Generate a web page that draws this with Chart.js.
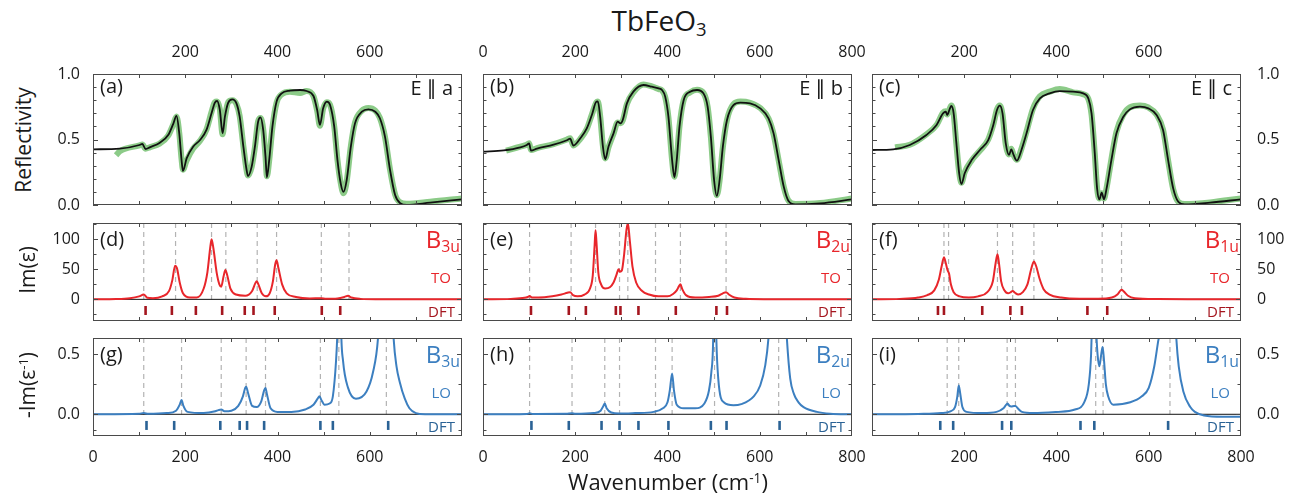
<!DOCTYPE html>
<html>
<head>
<meta charset="utf-8">
<script src="https://cdn.jsdelivr.net/npm/chart.js@4.4.1/dist/chart.umd.min.js"></script>
<style>
  body { margin: 0; background: #fff; }
  #wrap { position: relative; width: 1294px; height: 495px; overflow: hidden;
          font-family: 'Open Sans', 'DejaVu Sans', sans-serif; color: #1a1a1a; }
  canvas { position: absolute; }
  .t { position: absolute; white-space: nowrap; line-height: 1; z-index: 2; }
  .rot { transform: translate(-50%, -50%) rotate(-90deg); }
  .sub { font-size: .66em; position: relative; top: .28em; }
  .sup { font-size: .62em; position: relative; top: -.55em; }
</style>
</head>
<body>
<div id="wrap"></div>
<script>
/* ==========================================================
   TbFeO3 - reflectivity, Im(eps) and -Im(1/eps) panels
========================================================== */

/* ---------- reflectivity: fit (black) and measured (green) ---------- */

const wnA = [0, 58, 101, 107, 114, 123, 145, 163, 174, 181, 187, 192, 195, 203, 217, 232, 246, 257, 264, 269,
             275, 281, 286, 293, 302, 311, 318, 326, 333, 336, 344, 351, 358, 363, 369, 374, 377, 382, 389, 398,
             409, 427, 449, 463, 478, 486, 492, 499, 507, 514, 523, 530, 537, 543, 550, 559, 568, 583, 597, 612,
             622, 633, 644, 655, 666, 680, 731, 800];
const fitA = [0.425, 0.43, 0.458, 0.466, 0.427, 0.44, 0.476, 0.534, 0.62, 0.68, 0.547, 0.343, 0.26, 0.356, 0.445, 0.496, 0.573, 0.70, 0.78, 0.794,
              0.725, 0.547, 0.674, 0.78, 0.807, 0.776, 0.674, 0.445, 0.267, 0.221, 0.293, 0.445, 0.636, 0.669, 0.573, 0.369, 0.211, 0.343, 0.598, 0.789,
              0.852, 0.873, 0.878, 0.87, 0.832, 0.725, 0.611, 0.738, 0.789, 0.763, 0.598, 0.343, 0.165, 0.10, 0.19, 0.445, 0.623, 0.712, 0.73, 0.712,
              0.662, 0.522, 0.267, 0.076, 0.013, 0.0, 0.018, 0.043];
const wnAm = [50, 58, 101, 107, 114, 123, 145, 163, 174, 181, 187, 192, 195, 203, 217, 232, 246, 257, 264, 269,
              275, 281, 286, 293, 302, 311, 318, 326, 333, 336, 344, 351, 358, 363, 369, 374, 377, 382, 389, 398,
              409, 427, 449, 463, 478, 486, 492, 499, 507, 514, 523, 530, 537, 543, 550, 559, 568, 583, 597, 612,
              622, 633, 644, 655, 666, 680, 731, 800];
const measA = [0.38, 0.41, 0.455, 0.462, 0.43, 0.44, 0.47, 0.53, 0.615, 0.675, 0.55, 0.35, 0.27, 0.34, 0.43, 0.49, 0.575, 0.71, 0.785, 0.79,
               0.73, 0.54, 0.67, 0.785, 0.8, 0.77, 0.68, 0.45, 0.265, 0.225, 0.29, 0.44, 0.64, 0.665, 0.58, 0.37, 0.22, 0.34, 0.59, 0.78,
               0.845, 0.865, 0.855, 0.87, 0.83, 0.72, 0.605, 0.735, 0.785, 0.765, 0.6, 0.345, 0.17, 0.09, 0.18, 0.45, 0.63, 0.72, 0.74, 0.72,
               0.665, 0.52, 0.27, 0.08, 0.02, 0.01, 0.025, 0.05];

const wnB = [0, 45, 81, 95, 100, 104, 117, 153, 182, 189, 196, 211, 225, 236, 246, 249, 254, 260, 265, 272,
             283, 292, 298, 303, 312, 326, 348, 366, 381, 388, 395, 402, 410, 415, 420, 426, 435, 449, 464, 478,
             487, 494, 501, 507, 513, 520, 529, 543, 558, 579, 601, 619, 630, 641, 652, 662, 677, 731, 800];
const fitB = [0.407, 0.417, 0.44, 0.458, 0.47, 0.415, 0.43, 0.46, 0.494, 0.506, 0.453, 0.509, 0.585, 0.687, 0.789, 0.79, 0.674, 0.445, 0.349, 0.445,
              0.547, 0.636, 0.623, 0.649, 0.776, 0.865, 0.916, 0.903, 0.89, 0.878, 0.827, 0.674, 0.343, 0.211, 0.343, 0.598, 0.80, 0.865, 0.878, 0.852,
              0.751, 0.522, 0.191, 0.069, 0.191, 0.445, 0.649, 0.763, 0.781, 0.776, 0.738, 0.662, 0.547, 0.343, 0.14, 0.033, 0.005, 0.013, 0.043];
const wnBm = [50, 81, 95, 100, 104, 117, 153, 182, 189, 196, 211, 225, 236, 246, 249, 254, 260, 265, 272,
              283, 292, 298, 303, 312, 326, 348, 366, 381, 388, 395, 402, 410, 415, 420, 426, 435, 449, 464, 478,
              487, 494, 501, 507, 513, 520, 529, 543, 558, 579, 601, 619, 630, 641, 652, 662, 677, 731, 800];
const measB = [0.415, 0.445, 0.46, 0.472, 0.42, 0.435, 0.465, 0.5, 0.51, 0.455, 0.505, 0.58, 0.69, 0.785, 0.79, 0.68, 0.45, 0.355, 0.44,
               0.545, 0.63, 0.625, 0.645, 0.77, 0.86, 0.92, 0.905, 0.885, 0.875, 0.825, 0.67, 0.34, 0.215, 0.345, 0.6, 0.8, 0.86, 0.88,
               0.855, 0.75, 0.52, 0.19, 0.075, 0.19, 0.44, 0.65, 0.77, 0.79, 0.78, 0.74, 0.66, 0.54, 0.34, 0.14, 0.035, 0.008, 0.015, 0.05];

const wnC = [0, 46, 82, 118, 140, 154, 160, 163, 169, 172, 177, 183, 189, 194, 201, 216, 234, 252, 263, 271,
             277, 283, 290, 297, 302, 307, 314, 324, 335, 349, 364, 385, 407, 436, 458, 469, 476, 483, 488, 493,
             498, 503, 508, 519, 530, 545, 559, 581, 599, 617, 631, 642, 653, 664, 678, 733, 800];
const fitC = [0.42, 0.425, 0.458, 0.534, 0.611, 0.70, 0.712, 0.687, 0.738, 0.756, 0.70, 0.47, 0.242, 0.16, 0.242, 0.343, 0.42, 0.496, 0.611, 0.725,
              0.758, 0.70, 0.47, 0.382, 0.425, 0.382, 0.338, 0.42, 0.547, 0.725, 0.814, 0.852, 0.87, 0.865, 0.852, 0.814, 0.70, 0.394, 0.127, 0.043,
              0.094, 0.043, 0.115, 0.343, 0.547, 0.674, 0.73, 0.751, 0.738, 0.687, 0.573, 0.343, 0.127, 0.025, 0.005, 0.018, 0.043];
const wnCm = [50, 82, 118, 140, 154, 160, 163, 169, 172, 177, 183, 189, 194, 201, 216, 234, 252, 263, 271,
              277, 283, 290, 297, 302, 307, 314, 324, 335, 349, 364, 385, 407, 436, 458, 469, 476, 483, 488, 493,
              498, 503, 508, 519, 530, 545, 559, 581, 599, 617, 631, 642, 653, 664, 678, 733, 800];
const measC = [0.44, 0.46, 0.54, 0.61, 0.705, 0.715, 0.69, 0.74, 0.76, 0.695, 0.46, 0.25, 0.17, 0.25, 0.34, 0.415, 0.5, 0.615, 0.73,
               0.76, 0.69, 0.46, 0.385, 0.43, 0.38, 0.345, 0.43, 0.56, 0.735, 0.83, 0.865, 0.885, 0.86, 0.845, 0.81, 0.69, 0.39, 0.13, 0.05,
               0.09, 0.05, 0.12, 0.35, 0.56, 0.69, 0.745, 0.76, 0.745, 0.69, 0.575, 0.34, 0.12, 0.025, 0.008, 0.02, 0.05];

/* ---------- Im(eps), TO modes ---------- */

const wnD = [0, 50, 80, 100, 110, 118, 130, 150, 165, 172, 178, 182, 188, 195, 210, 225, 240, 248, 254, 257,
             261, 268, 274, 278, 283, 287, 291, 298, 310, 330, 345, 352, 355, 359, 366, 375, 383, 390, 395, 398,
             402, 410, 420, 440, 470, 495, 505, 530, 545, 553, 560, 580, 620, 700, 800];
const imD = [0, 0.5, 2, 5, 8, 2.5, 2, 5, 14, 32, 56, 52, 28, 10, 3, 3, 18, 45, 85, 100,
             85, 45, 25, 21, 38, 49, 40, 18, 8, 6, 14, 27, 30, 24, 10, 5, 10, 30, 58, 65,
             52, 25, 10, 4, 1.5, 2, 0.8, 1.5, 4, 6, 3, 0.8, 0.2, 0, 0];
const dashD = [110, 179, 257, 288, 356, 398, 495, 555];
const dftD = [114, 171, 223, 280, 329, 348, 394, 496, 536];

const wnE = [0, 60, 90, 97, 101, 106, 120, 150, 170, 183, 189, 195, 205, 220, 232, 238, 242, 244, 246, 250,
             256, 265, 275, 283, 289, 294, 297, 301, 306, 311, 314, 318, 324, 332, 345, 360, 380, 400, 412, 420,
             425, 428, 432, 440, 460, 490, 510, 520, 527, 533, 545, 570, 620, 700, 800];
const imE = [0, 0.8, 2.5, 4, 5.5, 3, 3, 5, 8, 11, 12, 7, 5, 8, 18, 40, 90, 115, 95, 45,
             25, 18, 20, 28, 40, 50, 46, 48, 75, 115, 127, 100, 55, 28, 14, 8, 5, 5, 9, 15,
             22, 25, 17, 7, 3, 4, 6, 10, 12, 8, 3, 1, 0.3, 0.1, 0];
const dashE = [101, 191, 244, 296, 314, 374, 428, 527];
const dftE = [104, 186, 223, 288, 298, 337, 418, 506, 529];

const wnF = [0, 60, 100, 120, 135, 145, 151, 156, 160, 164, 167, 171, 177, 190, 210, 230, 250, 262, 268, 272,
             275, 280, 287, 295, 301, 305, 310, 317, 327, 337, 345, 351, 356, 363, 372, 385, 410, 450, 490, 520,
             532, 538, 541, 546, 555, 570, 620, 700, 800];
const imF = [0, 0.8, 3, 7, 15, 33, 55, 70, 60, 48, 43, 25, 12, 5, 3, 5, 12, 30, 60, 75,
             62, 30, 15, 10, 12, 14, 11, 8, 12, 25, 50, 63, 55, 35, 17, 8, 3, 1, 1, 3,
             8, 14, 16, 13, 6, 2, 0.4, 0.1, 0];
const dashF = [156, 166, 272, 305, 351, 499, 541];
const dftF = [143, 156, 239, 300, 325, 467, 510];

/* ---------- -Im(1/eps), LO modes ---------- */

const wnG = [0, 100, 110, 120, 160, 180, 188, 192, 196, 205, 240, 265, 272, 278, 285, 300, 315, 325, 330, 332,
             336, 345, 355, 365, 371, 374, 377, 385, 400, 430, 460, 478, 487, 491, 495, 502, 513, 520, 527, 530,
             535, 538, 542, 553, 570, 593, 607, 618, 636, 652, 658, 665, 676, 686, 700, 720, 800];
const lossG = [0, 0.005, 0.01, 0.004, 0.01, 0.03, 0.08, 0.12, 0.07, 0.02, 0.01, 0.025, 0.035, 0.04, 0.025, 0.03, 0.07, 0.15, 0.22, 0.23,
               0.18, 0.07, 0.06, 0.11, 0.2, 0.22, 0.17, 0.05, 0.02, 0.02, 0.04, 0.08, 0.13, 0.15, 0.12, 0.08, 0.09, 0.15, 0.45, 0.7,
               1.5, 0.7, 0.45, 0.22, 0.13, 0.19, 0.35, 0.64, 2, 0.62, 0.4, 0.27, 0.13, 0.05, 0.01, 0, 0];
const dashG = [110, 192, 278, 332, 374, 493, 533, 636];
const dftG = [116, 176, 276, 318, 334, 371, 493, 520, 640];

const wnH = [0, 95, 101, 108, 180, 193, 200, 240, 255, 261, 264, 268, 278, 296, 330, 370, 390, 400, 405, 410,
             414, 420, 435, 460, 480, 490, 495, 499, 502, 506, 510, 522, 543, 560, 587, 601, 612, 619, 640, 659,
             666, 674, 684, 695, 724, 753, 800];
const lossH = [0, 0.003, 0.008, 0.003, 0.004, 0.008, 0.004, 0.01, 0.03, 0.07, 0.09, 0.05, 0.015, 0.006, 0.01, 0.02, 0.05, 0.1, 0.2, 0.34,
               0.2, 0.08, 0.05, 0.05, 0.09, 0.2, 0.35, 0.62, 1.5, 0.62, 0.3, 0.1, 0.075, 0.085, 0.15, 0.24, 0.41, 0.64, 2, 0.62,
               0.3, 0.17, 0.1, 0.06, 0.02, 0.005, 0];
const dashH = [101, 193, 264, 296, 374, 410, 502, 641];
const dftH = [105, 186, 257, 296, 337, 402, 494, 528, 643];

const wnI = [0, 100, 150, 170, 180, 185, 188, 191, 196, 205, 240, 270, 285, 291, 294, 298, 302, 308, 311, 316,
             325, 350, 400, 440, 460, 470, 475, 478, 481, 486, 489, 493, 497, 500, 503, 507, 512, 523, 560, 585,
             600, 612, 620, 624, 643, 660, 665, 675, 690, 700, 720, 760, 800];
const lossI = [0, 0.003, 0.01, 0.025, 0.06, 0.15, 0.24, 0.18, 0.06, 0.02, 0.01, 0.02, 0.05, 0.08, 0.09, 0.07, 0.065, 0.07, 0.07, 0.05,
               0.02, 0.01, 0.02, 0.04, 0.1, 0.25, 0.5, 0.9, 1.2, 0.7, 0.5, 0.4, 0.5, 0.56, 0.45, 0.25, 0.15, 0.08, 0.1, 0.15,
               0.22, 0.4, 0.6, 0.7, 2, 0.62, 0.4, 0.19, 0.06, 0.02, -0.01, -0.02, -0.02];
const dashI = [163, 188, 293, 311, 485, 501, 646];
const dftI = [148, 176, 282, 302, 452, 482, 642];

/* ---------- ticks ---------- */

const xTicks100 = [100, 200, 300, 400, 500, 600, 700];
const topLabels = [[200, 400, 600], [0, 200, 400, 600, 800], [200, 400, 600]];
const bottomLabels = [[0, 200, 400, 600], [0, 200, 400, 600, 800], [200, 400, 600, 800]];

/* =====================================================
   LAYOUT
===================================================== */

const COLS = [93, 483, 872];
const ROWS = [74, 223, 338];
const PW = 369;
const PH = [131, 98, 98];
const ML = 56, MR = 56, MT = 30, MB = 40;

const RED = "#e8262b", RED_DFT = "#a5161f";
const BLUE = "#3c7fc0", BLUE_DFT = "#2a6295";
const GREEN = "#8ccb88";
const FRAME = "#4a4a4a";
const FONT = "'Open Sans', 'DejaVu Sans', sans-serif";

const ROW_Y = [
    { min: 0, max: 1.0, major: [0, 0.5, 1.0], minor: [0.1, 0.2, 0.3, 0.4, 0.6, 0.7, 0.8, 0.9], fmt: v => v.toFixed(1) },
    { min: -36, max: 127, major: [0, 50, 100], minor: [-25, 25, 75, 125], fmt: v => String(v) },
    { min: -0.181, max: 0.636, major: [0, 0.5], minor: [-0.13, 0.25], fmt: v => v.toFixed(1) }
];
const DFT_Y = [null, -18.5, -0.093];

const wrap = document.getElementById("wrap");

/* =====================================================
   PLUGIN: frame + inward ticks
===================================================== */

const frame = {
    id: "frame",
    afterDatasetsDraw(chart, args, o) {
        const { ctx, chartArea: a } = chart;
        const xs = chart.scales.x, ys = chart.scales.y;
        ctx.save();
        ctx.strokeStyle = FRAME;
        ctx.lineWidth = 1;
        ctx.beginPath();
        xTicks100.forEach(v => {
            const px = Math.round(xs.getPixelForValue(v)) + 0.5;
            ctx.moveTo(px, a.top); ctx.lineTo(px, a.top + 4);
            ctx.moveTo(px, a.bottom); ctx.lineTo(px, a.bottom - 4);
        });
        const yt = (vals, len) => vals.forEach(v => {
            const py = Math.round(ys.getPixelForValue(v)) + 0.5;
            ctx.moveTo(a.left, py); ctx.lineTo(a.left + len, py);
            ctx.moveTo(a.right, py); ctx.lineTo(a.right - len, py);
        });
        yt(o.major, 5);
        yt(o.minor, 3.5);
        ctx.stroke();
        ctx.strokeRect(a.left + 0.5, a.top + 0.5, a.width - 1, a.height - 1);
        ctx.restore();
    }
};

/* =====================================================
   DATASET HELPERS
===================================================== */

const pts = (xs, ys) => xs.map((x, i) => ({ x, y: ys[i] }));

function curve(xs, ys, color, width, order) {
    return { data: pts(xs, ys), showLine: true, borderColor: color, borderWidth: width,
             pointRadius: 0, cubicInterpolationMode: "monotone", order };
}

function dashes(xs, top) {
    return { data: xs.flatMap(x => [{ x, y: top }, { x, y: 0 }, { x, y: null }]),
             showLine: true, spanGaps: false, borderColor: "#b3b3b3", borderWidth: 1.2,
             borderDash: [5, 4], pointRadius: 0, order: 3 };
}

function dftMarks(xs, y, color) {
    return { data: xs.map(x => ({ x, y })), showLine: false, pointStyle: "line", pointRotation: 90,
             pointRadius: 4.5, pointBorderColor: color, pointBorderWidth: 2.6, order: 1 };
}

function zeroLine() {
    return { data: [{ x: 0, y: 0 }, { x: 800, y: 0 }], showLine: true, borderColor: "#111",
             borderWidth: 1, pointRadius: 0, order: 2 };
}

/* =====================================================
   PANEL
===================================================== */

function xAxis(position, show, labels, size) {
    return {
        type: "linear", position, min: 0, max: 800, display: show,
        grid: { display: false }, border: { display: false },
        ticks: { font: { family: FONT, size: 16 }, color: "#1a1a1a", padding: 4,
                 maxRotation: 0, autoSkip: false, callback: v => String(v) },
        afterBuildTicks: s => { s.ticks = labels.map(v => ({ value: v })); },
        afterFit: s => { if (show) s.height = size; }
    };
}

function panel(row, col, datasets) {
    const w = PW + ML + MR, h = PH[row] + MT + MB;
    const cv = document.createElement("canvas");
    cv.width = w; cv.height = h;
    cv.style.left = (COLS[col] - ML) + "px";
    cv.style.top = (ROWS[row] - MT) + "px";
    cv.style.width = w + "px"; cv.style.height = h + "px";
    wrap.appendChild(cv);

    const yl = col === 0, yr = col === 2, top = row === 0, bottom = row === 2;
    const ry = ROW_Y[row];
    const showY = yl || yr;

    new Chart(cv, {
        type: "scatter",
        data: { datasets },
        options: {
            responsive: false, animation: false, devicePixelRatio: 1,
            layout: { padding: { left: yl ? 0 : ML, right: yr ? 0 : MR, top: top ? 0 : MT, bottom: bottom ? 0 : MB } },
            plugins: { legend: { display: false }, tooltip: { enabled: false },
                       frame: { major: ry.major, minor: ry.minor } },
            scales: {
                x: xAxis("bottom", bottom, bottomLabels[col], MB),
                x2: xAxis("top", top, topLabels[col], MT),
                y: {
                    type: "linear", position: yr ? "right" : "left", min: ry.min, max: ry.max,
                    display: showY,
                    grid: { display: false }, border: { display: false },
                    ticks: { font: { family: FONT, size: 16 }, color: "#1a1a1a", padding: yr ? 8 : 5, callback: ry.fmt },
                    afterBuildTicks: s => { s.ticks = ry.major.map(v => ({ value: v })); },
                    afterFit: s => { if (showY) s.width = yr ? MR : ML; }
                }
            }
        },
        plugins: [frame]
    });
}

function text(html, css, cls) {
    const d = document.createElement("div");
    d.className = "t" + (cls ? " " + cls : "");
    d.innerHTML = html;
    Object.assign(d.style, css);
    wrap.appendChild(d);
}

/* =====================================================
   BUILD
===================================================== */

const reflFit = [[wnA, fitA], [wnB, fitB], [wnC, fitC]];
const reflMeas = [[wnAm, measA], [wnBm, measB], [wnCm, measC]];
const toData = [[wnD, imD, dashD, dftD], [wnE, imE, dashE, dftE], [wnF, imF, dashF, dftF]];
const loData = [[wnG, lossG, dashG, dftG], [wnH, lossH, dashH, dftH], [wnI, lossI, dashI, dftI]];

for (let c = 0; c < 3; c++) {
    panel(0, c, [
        curve(reflFit[c][0], reflFit[c][1], "#111", 1.8, 0),
        curve(reflMeas[c][0], reflMeas[c][1], GREEN, 6, 4)
    ]);
    panel(1, c, [
        curve(toData[c][0], toData[c][1], RED, 2, 0),
        dftMarks(toData[c][3], DFT_Y[1], RED_DFT),
        zeroLine(),
        dashes(toData[c][2], ROW_Y[1].max)
    ]);
    panel(2, c, [
        curve(loData[c][0], loData[c][1], BLUE, 2, 0),
        dftMarks(loData[c][3], DFT_Y[2], BLUE_DFT),
        zeroLine(),
        dashes(loData[c][2], ROW_Y[2].max)
    ]);
}

/* ---------- texts ---------- */

const RIGHT = COLS.map(x => x + PW);
const letters = [["(a)", "(b)", "(c)"], ["(d)", "(e)", "(f)"], ["(g)", "(h)", "(i)"]];
const polar = ["E \u2225 a", "E \u2225 b", "E \u2225 c"];
const irreps = ["B<span class='sub'>3u</span>", "B<span class='sub'>2u</span>", "B<span class='sub'>1u</span>"];

text("TbFeO<span class='sub'>3</span>", { left: "659px", top: "6px", fontSize: "28px", transform: "translateX(-50%)" });
text("Reflectivity", { left: "23px", top: "140px", fontSize: "21px" }, "rot");
text("Im(\u03b5)", { left: "27px", top: "270px", fontSize: "21px" }, "rot");
text("-Im(\u03b5<span class='sup'>-1</span>)", { left: "27px", top: "385px", fontSize: "21px" }, "rot");
text("Wavenumber (cm<span class='sup'>-1</span>)", { left: "668px", top: "470px", fontSize: "22px", transform: "translateX(-50%)" });

for (let c = 0; c < 3; c++) {
    const L = COLS[c] + 7, R = 1294 - RIGHT[c];
    text(letters[0][c], { left: L + "px", top: "76px", fontSize: "20px" });
    text(polar[c], { right: (R + 9) + "px", top: "78px", fontSize: "20px" });

    text(letters[1][c], { left: L + "px", top: "229px", fontSize: "20px" });
    text(irreps[c], { right: (R + 2) + "px", top: "227px", fontSize: "24px", color: RED });
    text("TO", { right: (R + 11) + "px", top: "270px", fontSize: "15px", color: RED });
    text("DFT", { right: (R + 7) + "px", top: "304px", fontSize: "15px", color: RED_DFT });

    text(letters[2][c], { left: L + "px", top: "344px", fontSize: "20px" });
    text(irreps[c], { right: (R + 2) + "px", top: "342px", fontSize: "24px", color: BLUE });
    text("LO", { right: (R + 11) + "px", top: "385px", fontSize: "15px", color: BLUE });
    text("DFT", { right: (R + 7) + "px", top: "419px", fontSize: "15px", color: BLUE_DFT });
}
</script>
</body>
</html>
